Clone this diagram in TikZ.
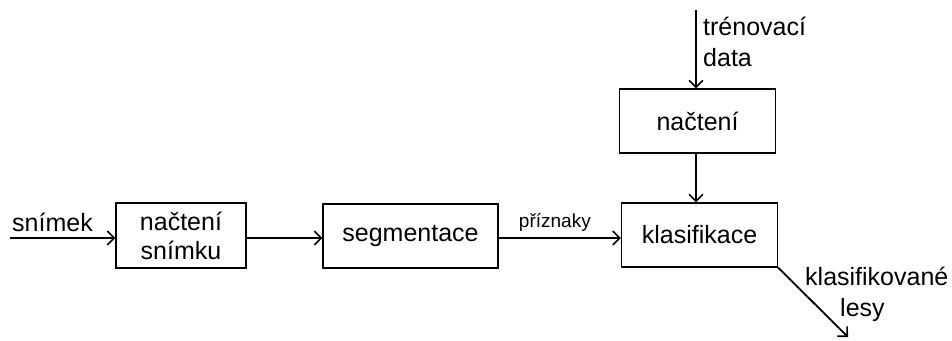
\documentclass[tikz,border=0pt]{standalone}
\usepackage{fontspec}
\setmainfont{Liberation Sans}
\usetikzlibrary{arrows.meta}
\begin{document}
\begin{tikzpicture}[x=1pt,y=-1pt,
  blk/.style={draw=black, line width=1.2pt, fill=white, inner sep=0pt, align=center,
    font=\fontsize{25}{29}\selectfont},
  lbl/.style={inner sep=0pt, font=\fontsize{25}{31}\selectfont},
  small/.style={inner sep=0pt, font=\fontsize{19}{22}\selectfont},
  arr/.style={line width=1.8pt, -{Straight Barb[length=7pt,width=14pt,line width=1.6pt]}}]
\useasboundingbox (0,0) rectangle (952,340);
\node[blk, minimum width=130pt, minimum height=65pt] (nacs) at (181,235.5) {načtení\\snímku};
\node[blk, minimum width=175pt, minimum height=64pt] (seg) at (410.5,236) {segmentace};
\node[blk, minimum width=156pt, minimum height=64pt] (klas) at (699.5,235) {klasifikace};
\node[blk, minimum width=156pt, minimum height=64pt] (nac) at (697.5,121) {načtení};
\coordinate (in) at (10,238);
\coordinate (top) at (696,10);
\coordinate (out) at (848,337);
\draw[arr] (in) -- (nacs.west |- in);
\draw[arr] (nacs.east |- in) -- (seg.west |- in);
\draw[arr] (seg.east |- in) -- node[small, above=6pt, pos=0.46] {příznaky} (klas.west |- in);
\draw[arr] (top) -- (nac.north -| top);
\draw[arr] (nac.south -| top) -- (klas.north -| top);
\draw[arr] (klas.south east) -- (out);
\node[lbl, anchor=base west] (tsn) at (12,231) {snímek};
\node[lbl, anchor=north west, align=left] (ttr) at (703,17) {trénovací\\data};
\node[lbl, anchor=north west, align=left] (tkl) at (805,267) {klasifikované\\\hspace*{35pt}lesy};
\end{tikzpicture}
\end{document}
